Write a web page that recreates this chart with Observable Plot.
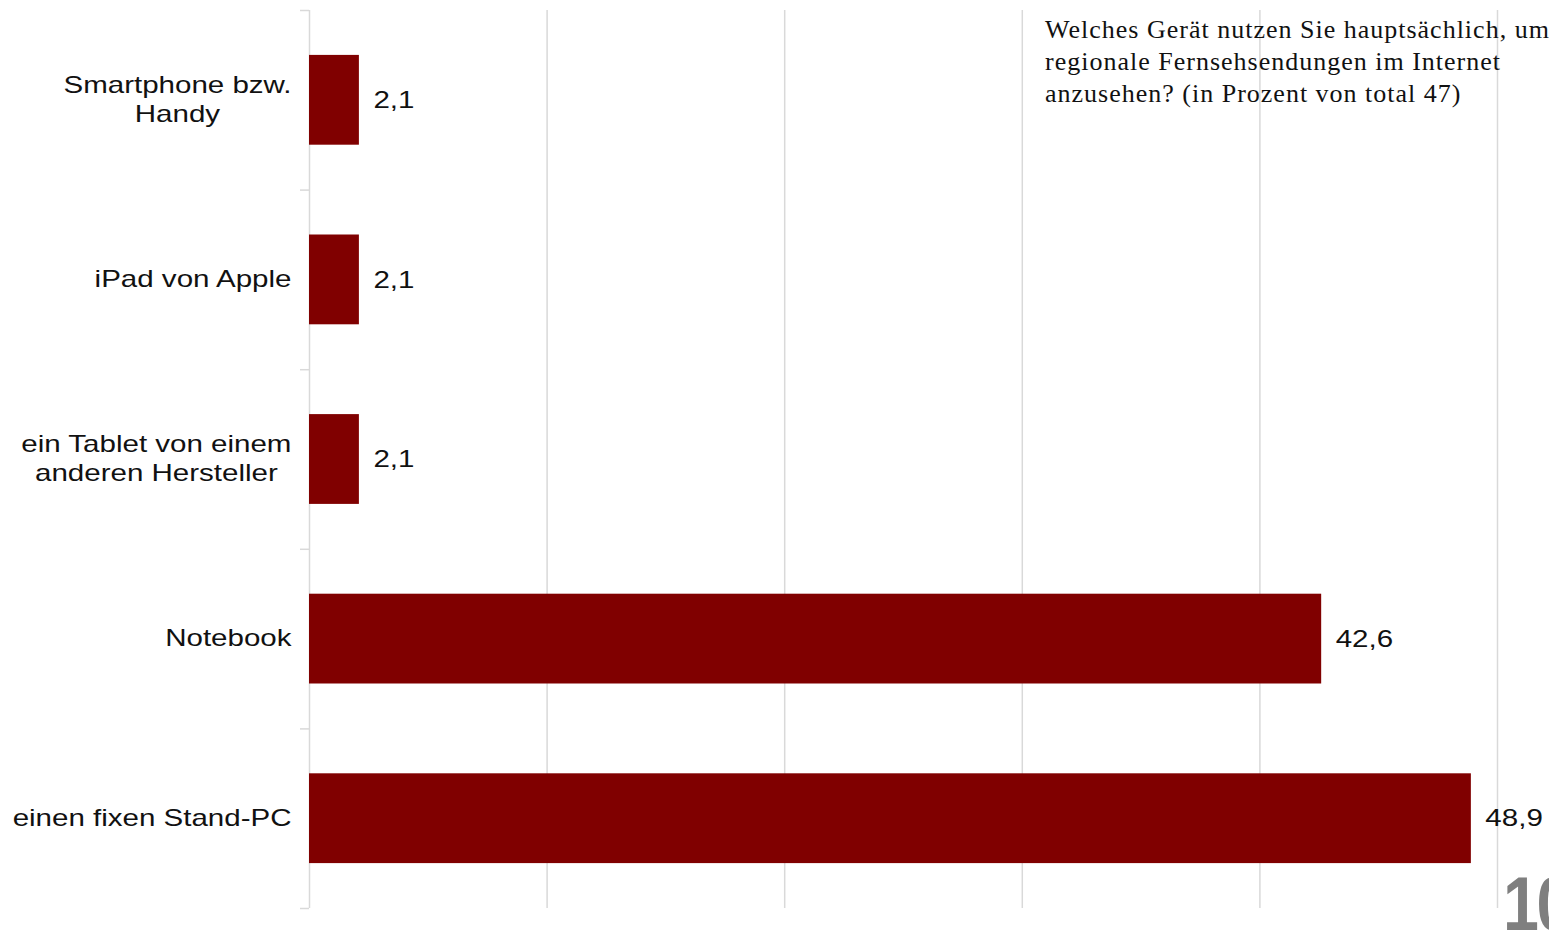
<!DOCTYPE html>
<html>
<head>
<meta charset="utf-8">
<script src="https://cdn.jsdelivr.net/npm/d3@7"></script>
<script src="https://cdn.jsdelivr.net/npm/@observablehq/plot@0.6"></script>
<style>
  html, body { margin: 0; padding: 0; background: #fff; overflow: hidden; }
  #wrap { position: relative; width: 1549px; height: 931px; overflow: hidden; }
  #title { position: absolute; left: 1045px; top: 14px; font-family: "Liberation Serif", "Times New Roman", serif; font-size: 26px; line-height: 32px; letter-spacing: 1px; color: #111; white-space: nowrap; }
  #page { position: absolute; left: 1503px; top: 860px; font-family: "Liberation Sans Narrow", "Liberation Sans", sans-serif; font-weight: bold; font-size: 76px; color: #7f7f7f; letter-spacing: -3px; transform: scaleX(0.85); transform-origin: left top; }
</style>
</head>
<body>
<div id="wrap">
  <div id="chart"></div>
  <div id="title">Welches Gerät nutzen Sie hauptsächlich, um<br>regionale Fernsehsendungen im Internet<br>anzusehen? (in Prozent von total 47)</div>
  <div id="page">10</div>
</div>
<script>
const categories = ["Smartphone bzw.\nHandy", "iPad von Apple", "ein Tablet von einem\nanderen Hersteller", "Notebook", "einen fixen Stand-PC"];
const values = [2.1, 2.1, 2.1, 42.6, 48.9];
const gridTicks = [10, 20, 30, 40, 50];
const boundaryTicks = [0, 1, 2, 3, 4, 5];

const rows = categories.map((c, i) => ({category: c, value: values[i], pos: i}));
const fmt = v => v.toLocaleString("de-DE", {minimumFractionDigits: 1, maximumFractionDigits: 1});

const grid = "#d9d9d9";
const plot = Plot.plot({
  width: 1549,
  height: 931,
  marginLeft: 309,
  marginRight: 52,
  marginTop: 10,
  marginBottom: 23,
  style: {fontFamily: "'Liberation Sans', Arial, sans-serif", background: "#fff"},
  x: {domain: [0, 50], axis: null},
  y: {domain: [0, 5], reverse: true, axis: null},
  marks: [
    Plot.ruleX(gridTicks, {stroke: grid, strokeWidth: 1.5}),
    Plot.axisY({ticks: boundaryTicks, tickSize: 9, tickFormat: () => "", stroke: grid, strokeWidth: 1.5}),
    Plot.ruleX([0], {stroke: grid, strokeWidth: 1.5}),
    Plot.rectX(rows, {x1: 0, x2: "value", y1: d => d.pos + 0.25, y2: d => d.pos + 0.75, fill: "#800000", inset: 0}),
    Plot.text(rows, {x: 0, y: d => d.pos + 0.5, text: "category", textAnchor: "end", dx: -18, dy: -2, fontSize: 24, lineHeight: 1.2, fill: "#111"}),
    Plot.text(rows, {x: "value", y: d => d.pos + 0.5, text: d => fmt(d.value), textAnchor: "start", dx: 14, fontSize: 24, fill: "#111"})
  ]
});
document.getElementById("chart").appendChild(plot);

// horizontally stretch the sans text like the reference, centering multi-line labels
const s = 1.23;
plot.querySelectorAll('g[aria-label="text"] text').forEach(t => {
  const tr = t.getAttribute("transform") || "";
  const spans = t.querySelectorAll("tspan");
  if (spans.length > 1) {
    let maxW = 0;
    spans.forEach(sp => { maxW = Math.max(maxW, sp.getComputedTextLength()); });
    t.setAttribute("text-anchor", "middle");
    t.setAttribute("transform", `${tr} scale(${s},1) translate(${-maxW / 2},0)`);
  } else {
    t.setAttribute("transform", `${tr} scale(${s},1)`);
  }
});
</script>
</body>
</html>
